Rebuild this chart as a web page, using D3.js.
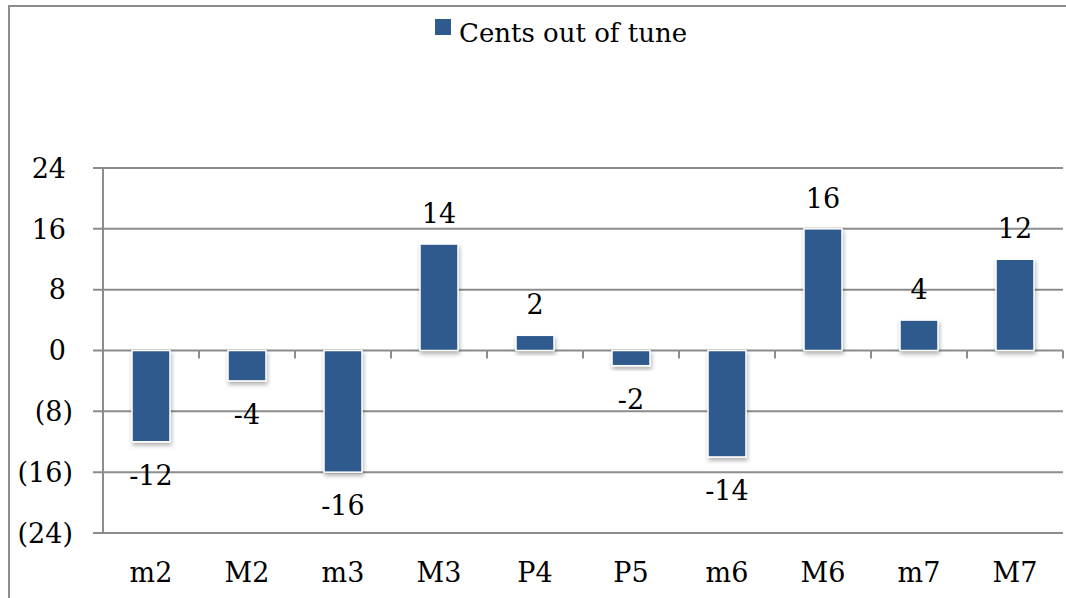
<!DOCTYPE html>
<html><head><meta charset="utf-8">
<script src="https://cdn.jsdelivr.net/npm/d3@7"></script>
<style>html,body{margin:0;background:#fff;overflow:hidden}svg{display:block;overflow:hidden}text{font-family:"DejaVu Serif",serif;fill:#000}</style>
</head><body><svg id="c" width="1066" height="598"></svg>
<script>
const categories = ["m2","M2","m3","M3","P4","P5","m6","M6","m7","M7"];
const values = [-12,-4,-16,14,2,-2,-14,16,4,12];
const yTicks = [24,16,8,0,-8,-16,-24];
const seriesName = "Cents out of tune";

const svg = d3.select("#c");
const color = "#2E5A8E";
const pLeft = 103, pRight = 1063, pTop = 168, pBottom = 533;
const fs = 27;

const defs = svg.append("defs");
const f = defs.append("filter").attr("id","sh").attr("x","-20%").attr("y","-20%").attr("width","150%").attr("height","150%");
f.append("feDropShadow").attr("dx",1).attr("dy",3).attr("stdDeviation",2).attr("flood-color","#000").attr("flood-opacity",0.3);

// outer frame: only top and left edges are visible in the window
svg.append("path").attr("d","M9,598 L9,6 L1066,6")
  .attr("fill","none").attr("stroke","#8c8c8c").attr("stroke-width",2);

const xb = d3.scaleBand().domain(categories).range([pLeft,pRight]);
const y = d3.scaleLinear().domain([-24,24]).range([pBottom,pTop]);

// gridlines
svg.append("g").selectAll("line").data(yTicks).join("line")
  .attr("x1",pLeft-10).attr("x2",pRight).attr("y1",d=>y(d)).attr("y2",d=>y(d))
  .attr("stroke","#8c8c8c").attr("stroke-width",2);
// y axis line
svg.append("line").attr("x1",pLeft).attr("x2",pLeft).attr("y1",pTop).attr("y2",pBottom)
  .attr("stroke","#8c8c8c").attr("stroke-width",2);
// category ticks on 0 line
svg.append("g").selectAll("line").data(categories).join("line")
  .attr("x1",d=>xb(d)+xb.bandwidth()).attr("x2",d=>xb(d)+xb.bandwidth())
  .attr("y1",y(0)).attr("y2",y(0)+8).attr("stroke","#8c8c8c").attr("stroke-width",2);

// y labels
svg.append("g").selectAll("text").data(yTicks).join("text")
  .attr("x",d=>d<0?73:66).attr("y",d=>y(d)).attr("dy","0.36em")
  .attr("text-anchor","end").attr("font-size",fs)
  .text(d=>d<0?"("+(-d)+")":d);

// bars
svg.append("g").selectAll("rect").data(values).join("rect")
  .attr("x",(d,i)=>xb(categories[i])+xb.bandwidth()/2-19)
  .attr("width",38)
  .attr("y",d=>y(Math.max(d,0)))
  .attr("height",d=>Math.abs(y(d)-y(0)))
  .attr("fill",color).attr("stroke","#fff").attr("stroke-width",1.5)
  .attr("filter","url(#sh)");

// value labels
svg.append("g").selectAll("text").data(values).join("text")
  .attr("x",(d,i)=>xb(categories[i])+xb.bandwidth()/2)
  .attr("y",d=>d>=0?y(d)-21:y(d)+43)
  .attr("text-anchor","middle").attr("font-size",fs)
  .text(d=>d);

// category labels
svg.append("g").selectAll("text").data(categories).join("text")
  .attr("x",d=>xb(d)+xb.bandwidth()/2).attr("y",582)
  .attr("text-anchor","middle").attr("font-size",fs)
  .text(d=>d);

// legend
svg.append("rect").attr("x",435).attr("y",19).attr("width",16).attr("height",16).attr("fill",color);
svg.append("text").attr("x",459).attr("y",42).attr("font-size",26).text(seriesName);
</script></body></html>
